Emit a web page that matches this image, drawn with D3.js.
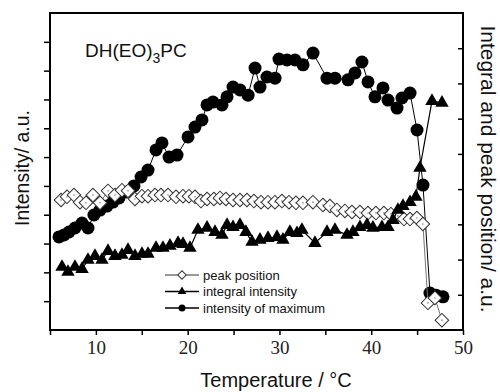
<!DOCTYPE html>
<html>
<head>
<meta charset="utf-8">
<script src="https://cdn.jsdelivr.net/npm/d3@7"></script>
<style>
  html, body { margin: 0; padding: 0; background: #fff; }
  svg { display: block; }
</style>
</head>
<body>
<div id="chart"></div>
<script>
// intensity of maximum (left axis)
const tempMax = [5.98, 6.53, 7.07, 7.72, 8.49, 9.14, 9.79, 10.45, 11.21, 11.86, 12.52, 13.39, 14.15, 14.92, 15.68,
  16.55, 17.2, 17.97, 18.84, 20.04, 20.8, 21.56, 22.11, 22.76, 23.74, 24.29, 24.94, 25.7, 26.58, 27.34, 27.88,
  28.64, 29.52, 29.95, 30.82, 31.69, 32.57, 33.66, 35.18, 36.05, 37.47, 38.23, 38.99, 39.65, 40.41, 41.28,
  41.83, 42.81, 43.35, 44.23, 44.99, 45.64, 46.4, 47.06, 47.82];
const intensityMax = [3.23, 3.3, 3.4, 3.54, 3.71, 3.54, 3.99, 4.16, 4.3, 4.44, 4.58, 4.79, 5.0, 5.31, 5.55,
  6.25, 6.49, 6.0, 6.07, 6.7, 7.04, 7.29, 7.81, 7.91, 7.81, 8.09, 8.43, 8.33, 8.15, 9.09, 8.43,
  8.78, 8.74, 9.4, 9.37, 9.37, 9.2, 9.61, 8.74, 8.74, 8.68, 8.92, 9.3, 8.61, 8.09, 8.4,
  7.98, 7.7, 8.05, 8.22, 6.94, 5.03, 1.28, 1.21, 1.15];

// integral intensity (right axis)
const tempInt = [6.31, 6.96, 7.72, 8.49, 9.14, 9.9, 10.66, 11.32, 12.08, 12.84, 13.5, 14.26, 15.02, 15.68, 16.55,
  17.31, 18.07, 18.95, 19.49, 20.25, 21.12, 22.11, 22.98, 23.74, 24.29, 24.94, 25.7, 26.35, 27.01, 27.88,
  28.75, 29.73, 30.38, 31.14, 31.91, 32.45, 33.87, 35.18, 36.05, 37.36, 38.01, 38.77, 39.54, 40.19, 41.17,
  41.83, 42.37, 42.91, 43.46, 44.23, 44.87, 45.31, 46.62, 47.71];
const integralInt = [1.79, 1.65, 1.79, 1.73, 1.99, 2.1, 1.99, 2.24, 2.1, 2.13, 2.27, 2.1, 2.16, 2.16, 2.33,
  2.33, 2.39, 2.47, 2.44, 2.33, 2.84, 2.9, 2.78, 2.7, 2.98, 2.92, 2.98, 2.78, 2.5, 2.56,
  2.61, 2.64, 2.56, 2.78, 2.75, 2.84, 2.47, 2.78, 2.84, 2.7, 2.78, 2.92, 2.98, 2.9, 2.92,
  2.92, 3.12, 3.41, 3.52, 3.63, 3.78, 4.6, 6.5, 6.45];

// peak position (right axis)
const tempPeak = [6.2, 6.85, 7.61, 8.27, 8.92, 9.68, 10.45, 11.32, 12.08, 12.84, 13.5, 14.26, 15.02, 15.68, 16.44,
  17.09, 17.86, 18.73, 19.49, 20.14, 20.8, 21.45, 22.11, 22.86, 23.52, 24.17, 24.94, 25.7, 26.46, 27.22,
  27.99, 28.75, 29.51, 30.27, 31.04, 31.8, 32.56, 33.65, 34.74, 35.5, 36.26, 37.13, 37.9, 38.77, 39.64,
  40.51, 41.38, 42.15, 42.91, 43.57, 44.22, 44.98, 45.63, 46.18, 46.94, 47.7];
const peakPos = [3.69, 3.78, 3.83, 3.63, 3.61, 3.83, 3.61, 3.95, 3.83, 3.97, 3.95, 3.72, 3.8, 3.8, 3.83,
  3.83, 3.83, 3.78, 3.8, 3.8, 3.78, 3.66, 3.72, 3.72, 3.75, 3.72, 3.69, 3.69, 3.69, 3.66,
  3.63, 3.63, 3.63, 3.66, 3.63, 3.61, 3.61, 3.63, 3.55, 3.52, 3.41, 3.38, 3.35, 3.35, 3.32,
  3.32, 3.32, 3.29, 3.24, 3.15, 3.15, 3.18, 3.01, 0.77, 0.91, 0.28];

const xTicks = [5, 10, 15, 20, 25, 30, 35, 40, 45, 50];
const leftTicks = [1, 2, 3, 4, 5, 6, 7, 8, 9, 10];
const rightTicks = [1, 2, 3, 4, 5, 6, 7, 8];
const legendLabels = ['peak position', 'integral intensity', 'intensity of maximum'];

const W = 500, H = 392;
const plot = { left: 50, right: 463, top: 13, bottom: 330 };
const sans = "'Liberation Sans', Arial, sans-serif";
const serif = "'Liberation Serif', 'Times New Roman', serif";

const svg = d3.select('#chart').append('svg')
  .attr('width', W)
  .attr('height', H);

const x = d3.scaleLinear().domain([5, 50]).range([plot.left, plot.right]);
const yL = d3.scaleLinear().domain([0, 11]).range([plot.bottom, plot.top]);
const yR = d3.scaleLinear().domain([0, 9]).range([plot.bottom, plot.top]);

// Axes
const gx = svg.append('g')
  .attr('transform', `translate(0,${plot.bottom})`)
  .call(d3.axisBottom(x).tickValues(xTicks).tickSize(5).tickPadding(6)
    .tickFormat(d => d % 10 === 0 ? d : ''));
gx.select('.domain').remove();
gx.selectAll('line').attr('stroke', '#000').attr('stroke-width', 1.5);
gx.selectAll('text').attr('font-family', serif).attr('font-size', 19).attr('fill', '#222');

const gl = svg.append('g')
  .attr('transform', `translate(${plot.left},0)`)
  .call(d3.axisLeft(yL).tickValues(leftTicks).tickSize(6).tickFormat(''));
gl.select('.domain').remove();
gl.selectAll('line').attr('stroke', '#000').attr('stroke-width', 1.5);

const gr = svg.append('g')
  .attr('transform', `translate(${plot.right},0)`)
  .call(d3.axisRight(yR).tickValues(rightTicks).tickSize(-5).tickFormat(''));
gr.select('.domain').remove();
gr.selectAll('line').attr('stroke', '#000').attr('stroke-width', 1.5);

// Frame
svg.append('rect')
  .attr('x', plot.left)
  .attr('y', plot.top)
  .attr('width', plot.right - plot.left)
  .attr('height', plot.bottom - plot.top)
  .attr('fill', 'none')
  .attr('stroke', '#000')
  .attr('stroke-width', 2);

// Series
const circlePts = tempMax.map((t, i) => [x(t), yL(intensityMax[i])]);
const trianglePts = tempInt.map((t, i) => [x(t), yR(integralInt[i])]);
const diamondPts = tempPeak.map((t, i) => [x(t), yR(peakPos[i])]);

const line = d3.line();

svg.append('path')
  .attr('d', line(circlePts))
  .attr('fill', 'none')
  .attr('stroke', '#000')
  .attr('stroke-width', 1);

svg.append('g').selectAll('circle')
  .data(circlePts)
  .join('circle')
  .attr('cx', d => d[0])
  .attr('cy', d => d[1])
  .attr('r', 6.5)
  .attr('fill', '#000');

svg.append('path')
  .attr('d', line(diamondPts))
  .attr('fill', 'none')
  .attr('stroke', '#777')
  .attr('stroke-width', 1);

const diamond = d3.symbol(d3.symbolSquare, 92);
const dg = svg.append('g').selectAll('g')
  .data(diamondPts)
  .join('g')
  .attr('transform', d => `translate(${d[0]},${d[1]})`);
dg.append('path')
  .attr('d', diamond)
  .attr('transform', 'rotate(45)')
  .attr('fill', '#fff')
  .attr('stroke', '#333')
  .attr('stroke-width', 1);
dg.append('circle')
  .attr('r', 0.8)
  .attr('fill', '#888');

svg.append('path')
  .attr('d', line(trianglePts))
  .attr('fill', 'none')
  .attr('stroke', '#000')
  .attr('stroke-width', 1.2);

const tri = d3.symbol(d3.symbolTriangle, 78);
svg.append('g').selectAll('path')
  .data(trianglePts)
  .join('path')
  .attr('d', tri)
  .attr('transform', d => `translate(${d[0]},${d[1]})`)
  .attr('fill', '#000');

// Title
const title = svg.append('text')
  .attr('x', 85)
  .attr('y', 57)
  .attr('font-family', sans)
  .attr('font-size', 19)
  .attr('fill', '#111');
title.append('tspan').text('DH(EO)');
title.append('tspan').attr('dy', 6).attr('font-size', 14).text('3');
title.append('tspan').attr('dy', -6).text('PC');

// Axis titles
svg.append('text')
  .attr('x', 276)
  .attr('y', 387)
  .attr('text-anchor', 'middle')
  .attr('font-family', sans)
  .attr('font-size', 20)
  .attr('fill', '#111')
  .text('Temperature / °C');

svg.append('text')
  .attr('transform', 'translate(29,168) rotate(-90)')
  .attr('text-anchor', 'middle')
  .attr('font-family', sans)
  .attr('font-size', 19.5)
  .attr('fill', '#111')
  .text('Intensity/ a.u.');

svg.append('text')
  .attr('transform', 'translate(481,169) rotate(90)')
  .attr('text-anchor', 'middle')
  .attr('font-family', sans)
  .attr('font-size', 21)
  .attr('fill', '#111')
  .text('Integral and peak position/ a.u.');

// Legend
const legend = svg.append('g').attr('transform', 'translate(165,275)');
const rowGap = 16.5;
legendLabels.forEach((label, i) => {
  const row = legend.append('g').attr('transform', `translate(0,${i * rowGap})`);
  row.append('line')
    .attr('x1', 0).attr('x2', 34).attr('y1', 0).attr('y2', 0)
    .attr('stroke', i === 0 ? '#777' : '#000')
    .attr('stroke-width', 1.3);
  if (i === 0) {
    row.append('path')
      .attr('d', d3.symbol(d3.symbolSquare, 36))
      .attr('transform', 'translate(17,0) rotate(45)')
      .attr('fill', '#fff')
      .attr('stroke', '#333');
  } else if (i === 1) {
    row.append('path')
      .attr('d', d3.symbol(d3.symbolTriangle, 32))
      .attr('transform', 'translate(17,0)')
      .attr('fill', '#000');
  } else {
    row.append('circle')
      .attr('cx', 17).attr('r', 3.5)
      .attr('fill', '#000');
  }
  row.append('text')
    .attr('x', 38)
    .attr('y', 4.5)
    .attr('font-family', sans)
    .attr('font-size', 13)
    .attr('fill', '#111')
    .text(label);
});
</script>
</body>
</html>
